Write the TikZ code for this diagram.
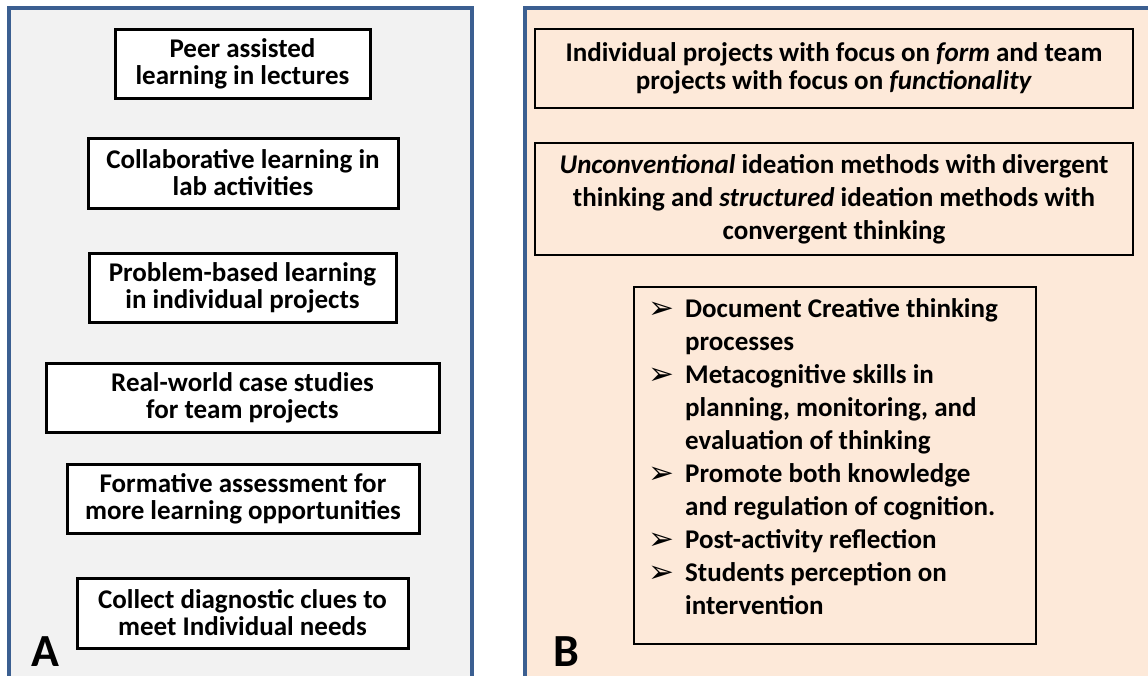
\documentclass[tikz,border=0pt]{standalone}
\usepackage{fontspec}
\setmainfont{Carlito}
\newfontfamily\symfont{DejaVu Sans}
\usetikzlibrary{calc}
\definecolor{panelblue}{HTML}{3B5F91}
\definecolor{panelgrey}{HTML}{F2F2F2}
\definecolor{panelpeach}{HTML}{FDE9D9}
\tikzset{panel/.style={
    draw=panelblue,
    line width=3.2pt}}
\tikzset{abox/.style={
    draw=black,
    fill=white,
    line width=3pt,
    inner sep=0pt,
    align=center,
    font=\fontsize{27}{27}\selectfont\bfseries}}
\tikzset{bbox/.style={
    draw=black,
    line width=1.8pt,
    inner sep=0pt,
    align=center,
    font=\fontsize{27}{28}\selectfont\bfseries}}
\tikzset{tag/.style={
    inner sep=0pt,
    font=\fontsize{46}{46}\selectfont\bfseries}}
\newcommand{\tipmark}{\makebox[37pt][l]{\raisebox{-1pt}{\symfont\fontsize{31}{31}\selectfont ➢}}}
\newcommand{\tipskip}{\hspace*{37pt}}

\begin{document}
\begin{tikzpicture}[x=1pt,y=-1pt]
\useasboundingbox (0,0) rectangle (1148,675);
\clip (0,0) rectangle (1148,675);

  % panneaux
\fill[panelgrey] (9,8) rectangle (472,690);
\draw[panel] (9,690) -- (9,8) -- (472,8) -- (472,690);
\fill[panelpeach] (525,8) rectangle (1160,690);
\draw[panel] (525,690) -- (525,8) -- (1160,8);

  % colonne A
\node[abox, minimum width=255, minimum height=69] (peer) at (242.5,63.5)
  {Peer assisted\\learning in lectures};
\node[abox, minimum width=310, minimum height=70] (collab) at (243,173)
  {Collaborative learning in\\lab activities};
\node[abox, minimum width=307, minimum height=69] (problem) at (242.5,287.5)
  {Problem-based learning\\in individual projects};
\node[abox, minimum width=393, minimum height=69] (cases) at (242.5,397.5)
  {Real-world case studies\\for team projects};
\node[abox, minimum width=352, minimum height=69] (formative) at (243,498.5)
  {Formative assessment for\\more learning opportunities};
\node[abox, minimum width=331, minimum height=70] (diagnostic) at (242.5,613)
  {Collect diagnostic clues to\\meet Individual needs};
\node[tag, anchor=base west] (tagA) at (31,666) {A};

  % colonne B
\node[bbox, minimum width=598, minimum height=79] (projects) at (834,68.5)
  {Individual projects with focus on \textit{form} and team\\
   projects with focus on \textit{functionality}};
\node[bbox, minimum width=598, minimum height=112,
  font=\fontsize{27}{33}\selectfont\bfseries] (ideation) at (834,199)
  {\textit{Unconventional} ideation methods with divergent\\
   thinking and \textit{structured} ideation methods with\\
   convergent thinking};
\node[bbox, minimum width=402, minimum height=357, anchor=north west] (tipsbox)
  at (633,286) {};
\node[inner sep=0pt, anchor=north west, align=left,
  font=\fontsize{27}{33}\selectfont\bfseries] (tips)
  at ($(tipsbox.north west)+(15,12)$)
  {\tipmark Document Creative thinking\\
   \tipskip processes\\
   \tipmark Metacognitive skills in\\
   \tipskip planning, monitoring, and\\
   \tipskip evaluation of thinking\\
   \tipmark Promote both knowledge\\
   \tipskip and regulation of cognition.\\
   \tipmark Post-activity reflection\\
   \tipmark Students perception on\\
   \tipskip intervention};
\node[tag, anchor=base west] (tagB) at (553,666) {B};
\end{tikzpicture}
\end{document}
